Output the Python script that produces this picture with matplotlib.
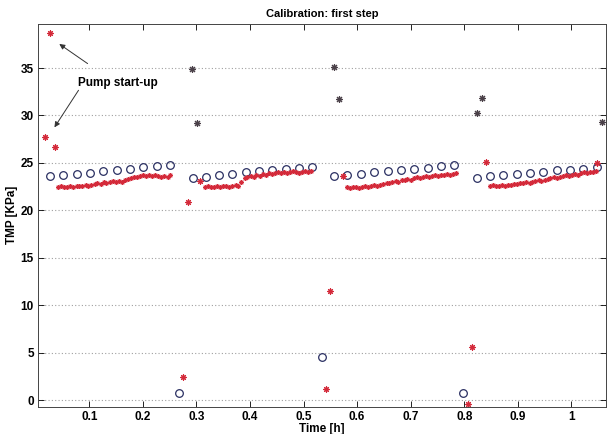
import matplotlib
matplotlib.use("Agg")
import matplotlib.pyplot as plt

plt.rcParams['font.family'] = ['Liberation Sans', 'DejaVu Sans']

# TMP readings (red asterisks), four filtration runs
t_red1 = [0.042, 0.047, 0.053, 0.059, 0.064, 0.070, 0.076, 0.081, 0.087, 0.093,
          0.098, 0.104, 0.110, 0.115, 0.121, 0.127, 0.132, 0.138, 0.144, 0.149,
          0.155, 0.161, 0.166, 0.172, 0.178, 0.183, 0.189, 0.195, 0.200, 0.206,
          0.212, 0.217, 0.223, 0.229, 0.234, 0.240, 0.246, 0.251]
v_red1 = [22.5, 22.6, 22.5, 22.5, 22.6, 22.5, 22.6, 22.6, 22.6, 22.7,
          22.6, 22.7, 22.8, 22.9, 22.8, 23.0, 22.9, 23.0, 23.1, 23.0,
          23.1, 23.0, 23.2, 23.3, 23.4, 23.5, 23.5, 23.6, 23.7, 23.6,
          23.7, 23.6, 23.7, 23.6, 23.5, 23.6, 23.5, 23.7]
t_red2 = [0.316, 0.322, 0.327, 0.333, 0.339, 0.344, 0.350, 0.356, 0.361, 0.367,
          0.373, 0.378, 0.384, 0.390, 0.395, 0.401, 0.407, 0.412, 0.418, 0.424,
          0.429, 0.435, 0.441, 0.446, 0.452, 0.458, 0.463, 0.469, 0.475, 0.480,
          0.486, 0.492, 0.497, 0.503, 0.509, 0.514]
v_red2 = [22.5, 22.6, 22.5, 22.5, 22.6, 22.5, 22.6, 22.6, 22.5, 22.6,
          22.7, 22.6, 23.0, 23.4, 23.5, 23.6, 23.5, 23.7, 23.6, 23.8,
          23.7, 23.9, 23.8, 23.9, 24.0, 23.9, 24.0, 23.9, 24.0, 24.1,
          24.0, 23.9, 24.0, 24.1, 24.0, 24.1]
t_red3 = [0.581, 0.587, 0.592, 0.598, 0.604, 0.609, 0.615, 0.621, 0.626, 0.632,
          0.638, 0.643, 0.649, 0.655, 0.660, 0.666, 0.672, 0.677, 0.683, 0.689,
          0.694, 0.700, 0.706, 0.711, 0.717, 0.723, 0.728, 0.734, 0.740, 0.745,
          0.751, 0.757, 0.762, 0.768, 0.774, 0.779, 0.785]
v_red3 = [22.5, 22.4, 22.5, 22.5, 22.4, 22.5, 22.6, 22.5, 22.6, 22.7,
          22.6, 22.7, 22.8, 22.9, 22.9, 23.0, 23.1, 23.0, 23.2, 23.2,
          23.3, 23.2, 23.4, 23.5, 23.4, 23.5, 23.6, 23.5, 23.6, 23.7,
          23.6, 23.7, 23.7, 23.8, 23.7, 23.8, 23.9]
t_red4 = [0.848, 0.854, 0.859, 0.865, 0.871, 0.876, 0.882, 0.888, 0.893, 0.899,
          0.905, 0.910, 0.916, 0.922, 0.927, 0.933, 0.939, 0.944, 0.950, 0.956,
          0.961, 0.967, 0.973, 0.978, 0.984, 0.990, 0.995, 1.001, 1.007, 1.012,
          1.018, 1.024, 1.029, 1.035, 1.041, 1.046]
v_red4 = [22.6, 22.7, 22.6, 22.6, 22.7, 22.6, 22.7, 22.7, 22.8, 22.8,
          22.9, 22.9, 23.0, 22.9, 23.0, 23.1, 23.2, 23.1, 23.2, 23.3,
          23.4, 23.5, 23.4, 23.5, 23.6, 23.7, 23.6, 23.7, 23.8, 23.7,
          23.9, 24.0, 23.9, 24.0, 24.0, 24.1]

# isolated red readings (start-up / transitions)
t_red_out = [0.0265, 0.0172, 0.0359, 0.284, 0.275, 0.307, 0.549, 0.542, 0.574,
             0.815, 0.841, 0.807, 1.048]
v_red_out = [38.66, 27.7, 26.7, 20.9, 2.46, 23.1, 11.5, 1.13, 23.6,
             5.55, 25.1, -0.4, 25.0]

# dark outliers
t_dark = [0.292, 0.301, 0.557, 0.566, 0.824, 0.833, 1.057]
v_dark = [34.9, 29.2, 35.1, 31.7, 30.3, 31.8, 29.3]

# model values (blue circles)
t_circ = [0.026, 0.051, 0.076, 0.101, 0.126, 0.151, 0.176, 0.201, 0.226, 0.251,
          0.267,
          0.293, 0.317, 0.342, 0.366, 0.393, 0.417, 0.441, 0.467, 0.492, 0.516,
          0.534,
          0.557, 0.582, 0.607, 0.632, 0.658, 0.682, 0.706, 0.732, 0.757, 0.781,
          0.798,
          0.823, 0.848, 0.872, 0.898, 0.922, 0.947, 0.973, 0.998, 1.022, 1.048]
v_circ = [23.65, 23.72, 23.82, 23.96, 24.1, 24.25, 24.38, 24.53, 24.67, 24.81,
          0.7,
          23.4, 23.5, 23.7, 23.8, 24.0, 24.1, 24.2, 24.35, 24.5, 24.6,
          4.5,
          23.6, 23.7, 23.8, 24.0, 24.1, 24.25, 24.4, 24.5, 24.7, 24.8,
          0.7,
          23.4, 23.6, 23.7, 23.8, 23.9, 24.0, 24.2, 24.3, 24.4, 24.6]

xtick_vals = [0.1, 0.2, 0.3, 0.4, 0.5, 0.6, 0.7, 0.8, 0.9, 1.0]
xtick_labels = ['0.1', '0.2', '0.3', '0.4', '0.5', '0.6', '0.7', '0.8', '0.9', '1']
ytick_vals = [0, 5, 10, 15, 20, 25, 30, 35]

red = '#d42a3a'
blue = '#2a2f62'
dark = '#4a4048'
aster = (8, 2, 0)  # matlab-like asterisk

fig = plt.figure(figsize=(6.08, 4.34), dpi=100)
ax = fig.add_axes([0.0625, 0.0629, 0.9342, 0.8818])

ax.plot(t_circ, v_circ, 'o', mfc='none', mec=blue, mew=0.9, ms=5.5, ls='none')
for tt, vv in [(t_red1, v_red1), (t_red2, v_red2), (t_red3, v_red3), (t_red4, v_red4)]:
    ax.plot(tt, vv, marker=aster, color=red, ms=3.5, mew=0.7, ls='none')
ax.plot(t_red_out, v_red_out, marker=aster, color=red, ms=4.5, mew=0.8, ls='none')
ax.plot(t_dark, v_dark, marker=aster, color=dark, ms=5, mew=0.8, ls='none')

ax.set_xlim(0.0041, 1.0648)
ax.set_ylim(-0.7, 39.64)
ax.set_xticks(xtick_vals)
ax.set_xticklabels(xtick_labels)
ax.set_yticks(ytick_vals)
ax.tick_params(direction='in', top=True, right=True, length=4, width=0.6,
               labelsize=8.5, pad=3)
for lab in ax.get_xticklabels() + ax.get_yticklabels():
    lab.set_fontweight('bold')
ax.yaxis.grid(True, linestyle=(0, (1, 2)), color='#a0a0a0', linewidth=0.8)
for s in ax.spines.values():
    s.set_linewidth(0.7)
    s.set_color('#444444')

ax.set_title('Calibration: first step', fontsize=8, fontweight='bold', pad=5)
ax.set_xlabel('Time [h]', fontsize=8.5, fontweight='bold', labelpad=0)
ax.set_ylabel('TMP [KPa]', fontsize=8.5, fontweight='bold', labelpad=2)

# annotation
ax.text(0.154, 33.4, 'Pump start-up', fontsize=8.5, fontweight='bold',
        ha='center', va='center')
arrow = dict(arrowstyle='-|>', color='#333333', lw=0.7, mutation_scale=8)
ax.annotate('', xy=(0.0396, 37.7), xytext=(0.101, 35.3), arrowprops=arrow)
ax.annotate('', xy=(0.032, 28.5), xytext=(0.0826, 32.9), arrowprops=arrow)

fig.savefig('out.png', dpi=100)
